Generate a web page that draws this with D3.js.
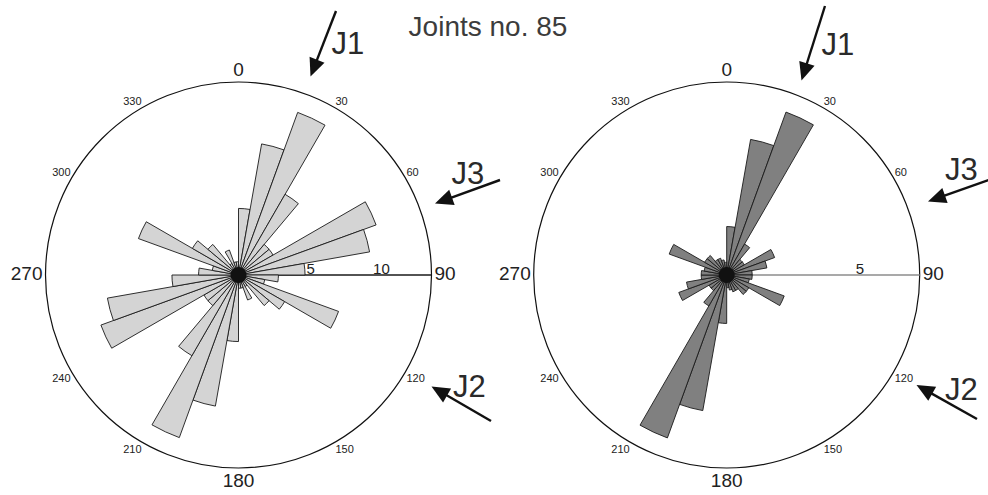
<!DOCTYPE html>
<html>
<head>
<meta charset="utf-8">
<script src="https://cdn.jsdelivr.net/npm/d3@7"></script>
<style>
  body { margin: 0; background: #fff; }
  svg { display: block; }
  text { font-family: "Liberation Sans", Arial, sans-serif; }
</style>
</head>
<body>
<svg id="chart" width="988" height="495"></svg>
<script>
// Strike directions are binned every 10 degrees over 0-170; each rose is
// symmetric, so bin k and bin k+18 (k + 180 degrees) share the same value.
const binWidth = 10;
const allJointCounts    = [5, 10, 13, 7, 3, 3, 11, 10, 5, 3, 2, 8, 4, 3, 1, 2, 1, 1];
const subsetJointCounts = [1.9, 5.4, 6.8, 1.4, 0.8, 0.8, 2.0, 1.6, 1.0, 1.0, 0.9, 2.4, 1.0, 1.0, 0.7, 0.7, 0.6, 0.5];
const minorAzimuths = [30, 60, 120, 150, 210, 240, 300, 330];
const majorAzimuths = [0, 90, 180, 270];
const allTicks = [5, 10];
const subsetTicks = [5];
const titleText = "Joints no. 85";
const setNames = ["J1", "J3", "J2"];

const svg = d3.select("#chart");
const rad = d => d * Math.PI / 180;

const roses = [
  {
    counts: allJointCounts, ticks: allTicks, cx: 238.5, cy: 275, R: 193, maxVal: 14.5,
    fill: "#d4d4d4", axisColor: "#1a1a1a",
    arrows: [
      { from: [336, 11],  tip: [310.5, 76.5], label: [331.5, 53.5] },
      { from: [500, 180], tip: [435, 203.5],  label: [451.5, 183.5] },
      { from: [491, 421], tip: [431.5, 386.5], label: [453, 397] }
    ]
  },
  {
    counts: subsetJointCounts, ticks: subsetTicks, cx: 726.7, cy: 275, R: 193, maxVal: 7.57,
    fill: "#808080", axisColor: "#8c8c8c",
    arrows: [
      { from: [825, 6],   tip: [801.5, 80.5], label: [821.5, 55] },
      { from: [989, 180], tip: [928, 201.5],  label: [945, 180] },
      { from: [977, 419], tip: [916.5, 385],  label: [945, 400] }
    ]
  }
];

function drawArrow(g, a) {
  const [x0, y0] = a.from, [x1, y1] = a.tip;
  const len = Math.hypot(x1 - x0, y1 - y0);
  const ux = (x1 - x0) / len, uy = (y1 - y0) / len;
  const headLen = 18, halfW = 8;
  const bx = x1 - ux * headLen, by = y1 - uy * headLen;
  g.append("line")
    .attr("x1", x0).attr("y1", y0).attr("x2", bx + ux * 2).attr("y2", by + uy * 2)
    .attr("stroke", "#111").attr("stroke-width", 2.4);
  g.append("path")
    .attr("d", `M${x1},${y1}L${bx - uy * halfW},${by + ux * halfW}L${bx + uy * halfW},${by - ux * halfW}Z`)
    .attr("fill", "#111");
}

roses.forEach(rose => {
  const r = d3.scaleLinear().domain([0, rose.maxVal]).range([0, rose.R]);
  const g = svg.append("g").attr("transform", `translate(${rose.cx},${rose.cy})`);

  // outer circle
  g.append("circle").attr("r", rose.R)
    .attr("fill", "none").attr("stroke", "#111").attr("stroke-width", 1.2);

  // radial scale axis towards 90
  g.append("line").attr("x1", 0).attr("y1", 0).attr("x2", rose.R).attr("y2", 0)
    .attr("stroke", rose.axisColor).attr("stroke-width", 1.4);

  // petals: full circle built from the half-circle bins
  const bins = d3.range(36).map(i => ({ start: i * binWidth, value: rose.counts[i % rose.counts.length] }));
  const arc = d3.arc()
    .innerRadius(0)
    .outerRadius(d => r(d.value))
    .startAngle(d => rad(d.start))
    .endAngle(d => rad(d.start + binWidth));
  g.selectAll("path.petal").data(bins).join("path")
    .attr("class", "petal")
    .attr("d", arc)
    .attr("fill", rose.fill)
    .attr("stroke", "#1a1a1a")
    .attr("stroke-width", 0.9)
    .attr("stroke-linejoin", "miter");

  // dense hub where petal edges converge
  g.append("circle").attr("r", 8).attr("fill", "#111");

  // scale values along the axis
  g.selectAll("text.tick").data(rose.ticks).join("text")
    .attr("class", "tick")
    .attr("x", d => r(d) + 1.5).attr("y", -1)
    .attr("font-size", 15).attr("fill", "#222")
    .text(d => d);

  // minor azimuth labels, set just outside the circle
  g.selectAll("text.minor").data(minorAzimuths).join("text")
    .attr("class", "minor")
    .attr("font-size", 11).attr("fill", "#222")
    .attr("text-anchor", d => Math.sin(rad(d)) > 0 ? "start" : "end")
    .attr("x", d => (rose.R + 1) * Math.sin(rad(d)))
    .attr("y", d => {
      const y = -(rose.R + 1) * Math.cos(rad(d));
      return Math.cos(rad(d)) > 0 ? y - 2 : y + 9.5;
    })
    .text(d => d);

  // cardinal labels
  const cardinalPos = {
    0:   { x: 0, y: -rose.R - 6, anchor: "middle" },
    90:  { x: rose.R + 3, y: 5, anchor: "start" },
    180: { x: 0, y: rose.R + 19, anchor: "middle" },
    270: { x: -rose.R - 3, y: 5, anchor: "end" }
  };
  g.selectAll("text.major").data(majorAzimuths).join("text")
    .attr("class", "major")
    .attr("font-size", 19).attr("fill", "#222")
    .attr("text-anchor", d => cardinalPos[d].anchor)
    .attr("x", d => cardinalPos[d].x)
    .attr("y", d => cardinalPos[d].y)
    .text(d => d);

  // joint set arrows
  const ag = svg.append("g");
  rose.arrows.forEach((a, i) => {
    drawArrow(ag, a);
    ag.append("text")
      .attr("x", a.label[0]).attr("y", a.label[1])
      .attr("font-size", 31).attr("fill", "#2a2a2a")
      .text(setNames[i]);
  });
});

svg.append("text")
  .attr("x", 488).attr("y", 36)
  .attr("text-anchor", "middle")
  .attr("font-size", 28).attr("fill", "#3c3c3c")
  .text(titleText);
</script>
</body>
</html>
